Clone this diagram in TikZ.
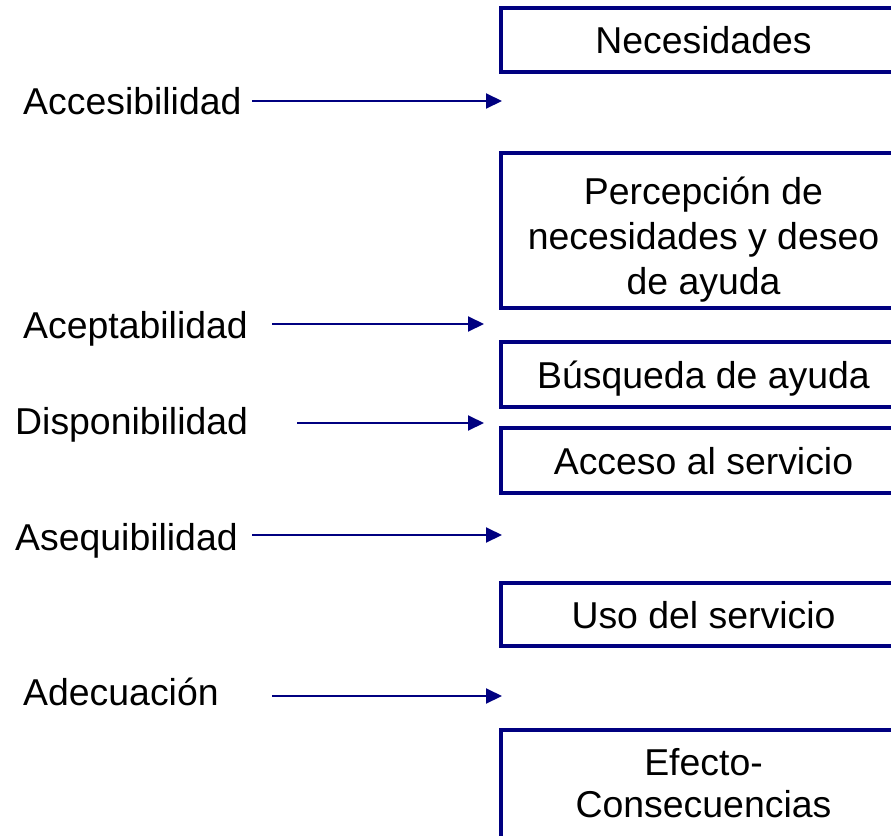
\documentclass[tikz,border=0pt]{standalone}
\usepackage{fontspec}
\setmainfont{Liberation Sans}
\usetikzlibrary{arrows.meta}
\definecolor{navyline}{RGB}{0,0,128}
\tikzset{
  box/.style={draw=navyline, line width=3.4pt, rectangle, minimum width=405pt, inner sep=0pt,
              font=\fontsize{37.4}{45}\selectfont, text height=27pt, text depth=0pt},
  lab/.style={anchor=base west, inner sep=0pt, font=\fontsize{37.4}{45}\selectfont},
  mtext/.style={anchor=base, inner sep=0pt},
  arr/.style={draw=navyline, line width=2pt, -{Triangle[length=16pt,width=15pt]}}
}
\begin{document}
\begin{tikzpicture}[x=1pt,y=-1pt]
\useasboundingbox (0,0) rectangle (891,835);
\clip (0,0) rectangle (891,835);
% boxes
\node[box, minimum height=64pt] (b1) at (703.5,40) {Necesidades};
\node[box, minimum height=155pt] (b2) at (703.5,230.5) {};
\node[mtext, font=\fontsize{37.4}{45}\selectfont] (t2) at (703.5,204)
  {\begin{tabular}[t]{@{}c@{}}Percepción de\\necesidades y deseo\\de ayuda\end{tabular}};
\node[box, minimum height=65pt] (b3) at (703.5,374.5) {Búsqueda de ayuda};
\node[box, minimum height=65pt] (b4) at (703.5,460.5) {Acceso al servicio};
\node[box, minimum height=63pt] (b5) at (703.5,614.5) {Uso del servicio};
\node[box, minimum height=170pt] (b6) at (703.5,815) {};
\node[mtext, font=\fontsize{37.4}{42}\selectfont] (t6) at (703.5,775)
  {\begin{tabular}[t]{@{}c@{}}Efecto-\\Consecuencias\end{tabular}};
% labels
\node[lab] (l1) at (23,114) {Accesibilidad};
\node[lab] (l2) at (23,338) {Aceptabilidad};
\node[lab] (l3) at (15,434) {Disponibilidad};
\node[lab] (l4) at (15,550) {Asequibilidad};
\node[lab] (l5) at (23,705) {Adecuación};
% arrow ends
\coordinate (s1) at (252,101); \coordinate (e1) at (502,101);
\coordinate (s2) at (272,324); \coordinate (e2) at (484,324);
\coordinate (s3) at (297,423); \coordinate (e3) at (484,423);
\coordinate (s4) at (252,535); \coordinate (e4) at (502,535);
\coordinate (s5) at (272,696); \coordinate (e5) at (502,696);
\draw[arr] (s1) -- (e1);
\draw[arr] (s2) -- (e2);
\draw[arr] (s3) -- (e3);
\draw[arr] (s4) -- (e4);
\draw[arr] (s5) -- (e5);
\end{tikzpicture}
\end{document}
